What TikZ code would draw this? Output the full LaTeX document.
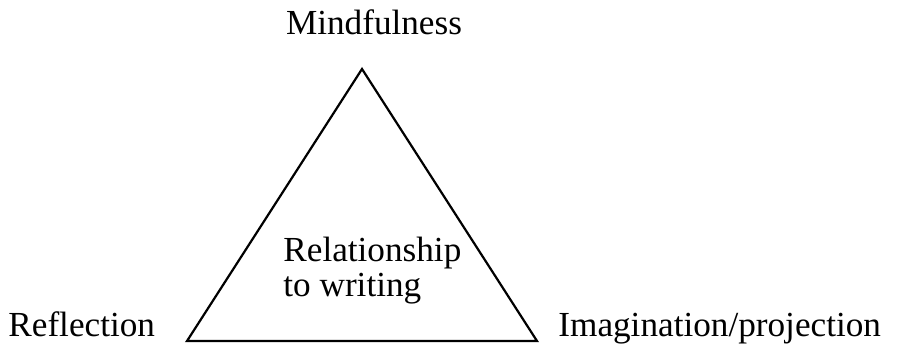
\documentclass[tikz,border=0pt]{standalone}
\usepackage{fontspec}
\setmainfont{Liberation Serif}
\begin{document}
\begin{tikzpicture}[
		x=0.5pt, y=-0.5pt,
		corner/.style={font=\fontsize{17.6}{21}\selectfont, inner sep=0pt, anchor=base west},
		inside/.style={font=\fontsize{17.6}{17.5}\selectfont, inner sep=0pt, align=left, anchor=base west},
		side/.style={line width=1.1pt, line join=miter}
		]
		
		\useasboundingbox (0,0) rectangle (897,346);
		
		\coordinate (top) at (362,69);
		\coordinate (left) at (187,341);
		\coordinate (right) at (537,341);
		
		\draw[side] (top) -- (left) -- (right) -- cycle;
		
		\node[corner, anchor=base] (mind) at (374,35) {Mindfulness};
		\node[corner] (refl) at (8,336) {Reflection};
		\node[corner] (imag) at (558,336) {Imagination/projection};
		\node[inside] (rel) at (283,297) {Relationship\\to writing};
		
	\end{tikzpicture}
\end{document}
